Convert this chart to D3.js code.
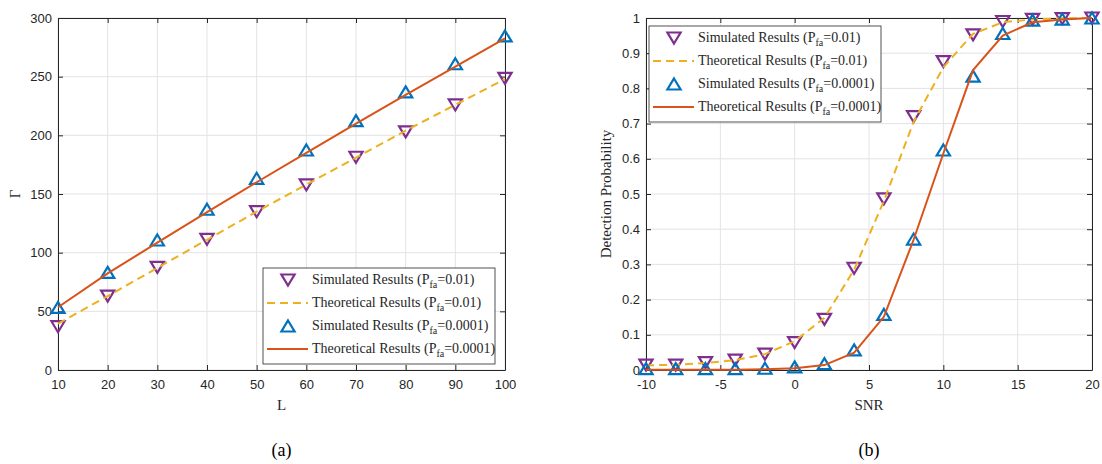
<!DOCTYPE html>
<html>
<head>
<meta charset="utf-8">
<script src="https://cdn.jsdelivr.net/npm/d3@7"></script>
<style>
  body { margin: 0; background: #fff; }
  svg { display: block; }
  .tick text { font-family: "Liberation Sans", Arial, sans-serif; font-size: 13px; fill: #262626; }
</style>
</head>
<body>
<svg id="chart" width="1102" height="464"></svg>
<script>
// ---- panel (a): threshold vs L ----
var L = [10, 20, 30, 40, 50, 60, 70, 80, 90, 100];
var gammaSim01   = [36.9, 63, 87.5, 111.4, 134.9, 157.7, 181.3, 203, 225.9, 248.6];
var gammaTheo01  = [39.5, 63, 87, 111, 135, 158, 181, 204, 226, 248];
var gammaSim0001 = [53.4, 83.2, 110.8, 137, 163.4, 187.5, 212.5, 237, 261, 284.7];
var gammaTheo0001= [53.5, 82.4, 108.5, 134.5, 160, 185, 210, 234.5, 258.5, 282.6];
var lTicks = [10, 20, 30, 40, 50, 60, 70, 80, 90, 100];
var gammaTicks = [0, 50, 100, 150, 200, 250, 300];

// ---- panel (b): detection probability vs SNR ----
var SNR = [-10, -8, -6, -4, -2, 0, 2, 4, 6, 8, 10, 12, 14, 16, 18, 20];
var pdSim01    = [0.014, 0.014, 0.021, 0.028, 0.045, 0.078, 0.144, 0.289, 0.486, 0.72, 0.876, 0.952, 0.99, 0.996, 0.998, 1.0];
var pdTheo01   = [0.013, 0.015, 0.02, 0.028, 0.045, 0.082, 0.148, 0.285, 0.48, 0.705, 0.86, 0.955, 0.988, 0.996, 0.999, 1.0];
var pdSim0001  = [0.004, 0.004, 0.004, 0.004, 0.005, 0.009, 0.018, 0.057, 0.158, 0.372, 0.625, 0.835, 0.956, 0.994, 0.997, 1.0];
var pdTheo0001 = [0.001, 0.001, 0.001, 0.001, 0.002, 0.005, 0.014, 0.049, 0.151, 0.37, 0.615, 0.852, 0.95, 0.988, 0.996, 1.0];
var snrTicks = [-10, -5, 0, 5, 10, 15, 20];
var pdTicks = [0, 0.1, 0.2, 0.3, 0.4, 0.5, 0.6, 0.7, 0.8, 0.9, 1];

var legendItems = [
  {kind: "down", color: "#7E2F8E", text: "Simulated Results (P", sub: "fa", tail: "=0.01)"},
  {kind: "dash", color: "#EDB120", text: "Theoretical Results (P", sub: "fa", tail: "=0.01)"},
  {kind: "up",   color: "#0072BD", text: "Simulated Results (P", sub: "fa", tail: "=0.0001)"},
  {kind: "solid",color: "#D95319", text: "Theoretical Results (P", sub: "fa", tail: "=0.0001)"}
];

var svg = d3.select("#chart");
var AXIS = "#262626", GRID = "#e3e3e3";
var SERIF = "'Liberation Serif', 'Times New Roman', serif";
var plain = function(d){ return String(d); };   // keep ASCII hyphen for negatives

function triPath(dir){
  // bbox-centred triangle, dir 1 = up, -1 = down
  var w = 6.6, h = 5.5;
  var p = d3.path();
  p.moveTo(0, -h * dir);
  p.lineTo(w, h * dir);
  p.lineTo(-w, h * dir);
  p.closePath();
  return p.toString();
}

function panel(cfg){
  var x = d3.scaleLinear().domain(cfg.xDomain).range([cfg.left, cfg.right]);
  var y = d3.scaleLinear().domain(cfg.yDomain).range([370, 18]);
  var g = svg.append("g");

  // grid
  g.selectAll(".gx").data(cfg.xTicks).enter().append("line")
    .attr("x1", function(d){ return x(d); }).attr("x2", function(d){ return x(d); })
    .attr("y1", y.range()[0]).attr("y2", y.range()[1])
    .attr("stroke", GRID).attr("stroke-width", 1);
  g.selectAll(".gy").data(cfg.yTicks).enter().append("line")
    .attr("y1", function(d){ return y(d); }).attr("y2", function(d){ return y(d); })
    .attr("x1", cfg.left).attr("x2", cfg.right)
    .attr("stroke", GRID).attr("stroke-width", 1);

  // axes (ticks pointing inward, box on all sides)
  function styleAxis(sel){
    sel.selectAll("path").attr("stroke", AXIS).attr("stroke-width", 1);
    sel.selectAll("line").attr("stroke", AXIS).attr("stroke-width", 1);
  }
  g.append("g").attr("transform", "translate(0,370)")
    .call(d3.axisBottom(x).tickValues(cfg.xTicks).tickSize(-5).tickSizeOuter(0).tickPadding(10).tickFormat(plain))
    .call(styleAxis);
  g.append("g").attr("transform", "translate(0,18)")
    .call(d3.axisTop(x).tickValues(cfg.xTicks).tickSize(-5).tickSizeOuter(0).tickFormat(""))
    .call(styleAxis);
  g.append("g").attr("transform", "translate(" + cfg.left + ",0)")
    .call(d3.axisLeft(y).tickValues(cfg.yTicks).tickSize(-5).tickSizeOuter(0).tickPadding(6).tickFormat(plain))
    .call(styleAxis);
  g.append("g").attr("transform", "translate(" + cfg.right + ",0)")
    .call(d3.axisRight(y).tickValues(cfg.yTicks).tickSize(-5).tickSizeOuter(0).tickFormat(""))
    .call(styleAxis);
  g.selectAll(".tick text").attr("fill", AXIS);

  var line = d3.line()
    .x(function(d){ return x(d[0]); })
    .y(function(d){ return y(d[1]); });
  function pairs(xs, ys){ return xs.map(function(v, i){ return [v, ys[i]]; }); }

  // series in MATLAB plot order
  g.selectAll(".mA").data(pairs(cfg.xs, cfg.simA)).enter().append("path")
    .attr("d", triPath(-1))
    .attr("transform", function(d){ return "translate(" + x(d[0]) + "," + y(d[1]) + ")"; })
    .attr("fill", "none").attr("stroke", "#7E2F8E").attr("stroke-width", 2.2);
  g.append("path").datum(pairs(cfg.xs, cfg.theoA))
    .attr("d", line).attr("fill", "none")
    .attr("stroke", "#EDB120").attr("stroke-width", 2).attr("stroke-dasharray", "8,5");
  g.selectAll(".mB").data(pairs(cfg.xs, cfg.simB)).enter().append("path")
    .attr("d", triPath(1))
    .attr("transform", function(d){ return "translate(" + x(d[0]) + "," + y(d[1]) + ")"; })
    .attr("fill", "none").attr("stroke", "#0072BD").attr("stroke-width", 2.2);
  g.append("path").datum(pairs(cfg.xs, cfg.theoB))
    .attr("d", line).attr("fill", "none")
    .attr("stroke", "#D95319").attr("stroke-width", 2);

  // axis labels
  g.append("text").attr("x", (cfg.left + cfg.right) / 2).attr("y", 410)
    .attr("text-anchor", "middle").attr("font-family", SERIF).attr("font-size", 15)
    .attr("fill", AXIS).text(cfg.xLabel);
  g.append("text")
    .attr("transform", "translate(" + cfg.yLabelX + ",194) rotate(-90)")
    .attr("text-anchor", "middle").attr("font-family", SERIF).attr("font-size", 15)
    .attr("fill", AXIS).text(cfg.yLabel);

  // caption
  g.append("text").attr("x", (cfg.left + cfg.right) / 2).attr("y", 456)
    .attr("text-anchor", "middle").attr("font-family", SERIF).attr("font-size", 18)
    .attr("fill", "#000").text(cfg.caption);

  // legend
  var lg = g.append("g").attr("transform", "translate(" + cfg.legX + "," + cfg.legY + ")");
  lg.append("rect").attr("width", 232).attr("height", 96)
    .attr("fill", "#fff").attr("stroke", AXIS).attr("stroke-width", 0.8);
  var row = lg.selectAll(".row").data(legendItems).enter().append("g")
    .attr("transform", function(d, i){ return "translate(0," + (12 + i * 23) + ")"; });
  row.each(function(d){
    var r = d3.select(this);
    if (d.kind === "down" || d.kind === "up") {
      r.append("path").attr("d", triPath(d.kind === "up" ? 1 : -1))
        .attr("transform", "translate(25,0)")
        .attr("fill", "none").attr("stroke", d.color).attr("stroke-width", 2.2);
    } else {
      r.append("line").attr("x1", 4).attr("x2", 45).attr("y1", 0).attr("y2", 0)
        .attr("stroke", d.color).attr("stroke-width", 2)
        .attr("stroke-dasharray", d.kind === "dash" ? "8,5" : null);
    }
    var t = r.append("text").attr("x", 49).attr("y", 4)
      .attr("font-family", SERIF).attr("font-size", 14).attr("fill", AXIS);
    t.append("tspan").text(d.text);
    t.append("tspan").attr("font-size", 10).attr("dy", 4).text(d.sub);
    t.append("tspan").attr("dy", -4).text(d.tail);
  });
}

panel({
  xs: L, simA: gammaSim01, theoA: gammaTheo01, simB: gammaSim0001, theoB: gammaTheo0001,
  xDomain: [10, 100], yDomain: [0, 300], xTicks: lTicks, yTicks: gammaTicks,
  left: 58, right: 505, xLabel: "L", yLabel: "\u0393", yLabelX: 20,
  caption: "(a)", legX: 263, legY: 268
});
panel({
  xs: SNR, simA: pdSim01, theoA: pdTheo01, simB: pdSim0001, theoB: pdTheo0001,
  xDomain: [-10, 20], yDomain: [0, 1], xTicks: snrTicks, yTicks: pdTicks,
  left: 646, right: 1092, xLabel: "SNR", yLabel: "Detection Probability", yLabelX: 611,
  caption: "(b)", legX: 649, legY: 26
});
</script>
</body>
</html>
